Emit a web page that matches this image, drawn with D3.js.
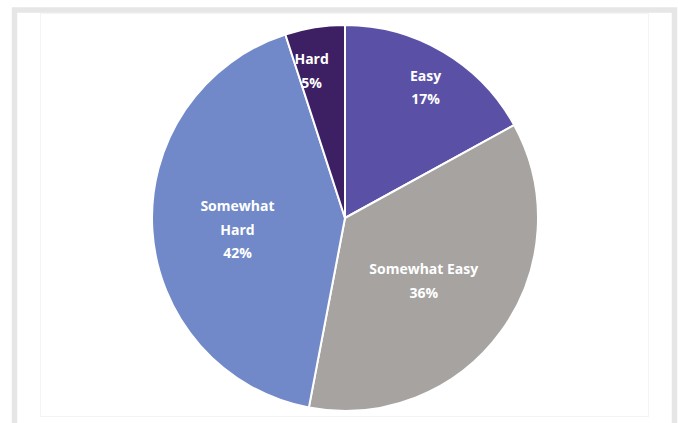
<!DOCTYPE html>
<html>
<head>
<meta charset="utf-8">
<script src="https://cdn.jsdelivr.net/npm/d3@7/dist/d3.min.js"></script>
<style>
  html, body { margin: 0; padding: 0; background: #ffffff; }
  svg { display: block; }
</style>
</head>
<body>
<svg id="chart" width="678" height="423"></svg>
<script>
// Survey answers: how easy was it?
const categories = ["Easy", "Somewhat Easy", "Somewhat Hard", "Hard"];
const percentages = [17, 36, 42, 5];
const sliceColors = ["#5a51a6", "#a6a3a1", "#7189c8", "#3d1f63"];

const W = 678, H = 423;
const svg = d3.select("#chart");

// Frame around the chart area
svg.append("rect")
  .attr("x", 14.5).attr("y", 10)
  .attr("width", 660).attr("height", 430)
  .attr("fill", "#ffffff")
  .attr("stroke", "#e6e6e6")
  .attr("stroke-width", 5.5);

// Faint inner plot panel
svg.append("rect")
  .attr("x", 40.5).attr("y", 13.5)
  .attr("width", 608).attr("height", 403)
  .attr("fill", "none")
  .attr("stroke", "#f4f4f4")
  .attr("stroke-width", 1);

const cx = 345, cy = 218, r = 193;

const pie = d3.pie()
  .sort(null)
  .value(d => d)
  .startAngle(0)
  .endAngle(2 * Math.PI);

const arcs = pie(percentages);

const arc = d3.arc().innerRadius(0).outerRadius(r);

const g = svg.append("g").attr("transform", `translate(${cx},${cy})`);

g.selectAll("path.slice")
  .data(arcs)
  .join("path")
  .attr("class", "slice")
  .attr("d", arc)
  .attr("fill", (d, i) => sliceColors[i])
  .attr("stroke", "#ffffff")
  .attr("stroke-width", 2)
  .attr("stroke-linejoin", "round");

// Label placement (fraction of radius) and which labels wrap onto two lines
const labelRadius = [0.80, 0.52, 0.56, 0.785];
const labelAngleShift = [0.015, 0.04, -0.035, -0.065];
const wrapLabel = [false, false, true, false];
const lineH = 23.5;

arcs.forEach((d, i) => {
  const mid = (d.startAngle + d.endAngle) / 2 + labelAngleShift[i];
  const rr = r * labelRadius[i];
  const x = Math.sin(mid) * rr;
  const y = -Math.cos(mid) * rr;
  const lines = wrapLabel[i] ? categories[i].split(" ") : [categories[i]];
  lines.push(d.data + "%");
  const t = g.append("text")
    .attr("x", x)
    .attr("y", y - (lines.length - 1) * lineH / 2)
    .attr("text-anchor", "middle")
    .attr("dominant-baseline", "central")
    .attr("fill", "#ffffff")
    .attr("font-family", "'Open Sans', 'Noto Sans', sans-serif")
    .attr("font-weight", 700)
    .attr("font-size", "14px");
  lines.forEach((ln, k) => {
    t.append("tspan")
      .attr("x", x)
      .attr("dy", k === 0 ? 0 : lineH)
      .text(ln);
  });
});
</script>
</body>
</html>
